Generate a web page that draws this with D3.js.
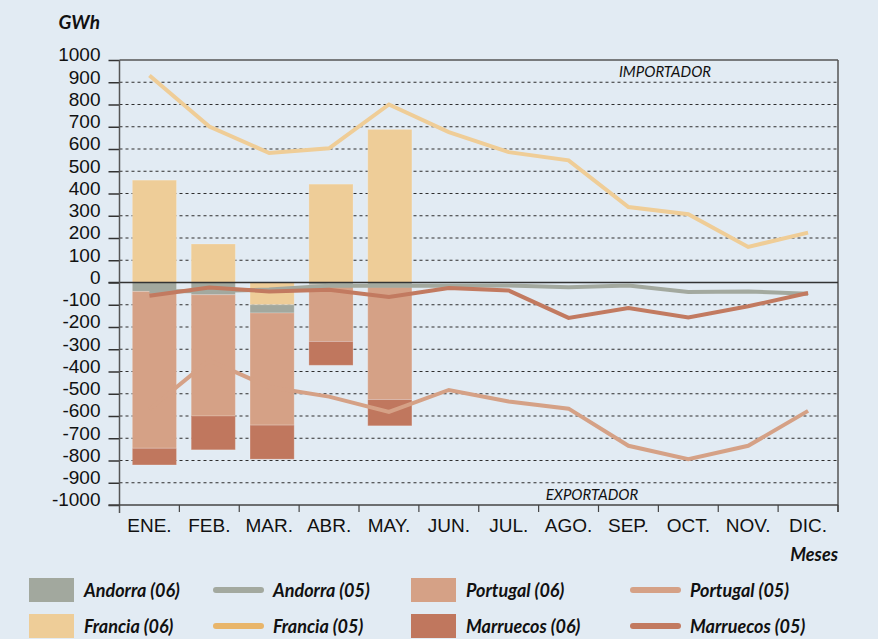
<!DOCTYPE html>
<html>
<head>
<meta charset="utf-8">
<script src="https://cdn.jsdelivr.net/npm/d3@7"></script>
<style>
  body { margin: 0; background: #e2ebf3; }
  svg { display: block; font-family: Lato, "Open Sans", sans-serif; }
</style>
</head>
<body>
<script>
// months
const months = ["ENE.", "FEB.", "MAR.", "ABR.", "MAY.", "JUN.", "JUL.", "AGO.", "SEP.", "OCT.", "NOV.", "DIC."];
const months06 = ["ENE.", "FEB.", "MAR.", "ABR.", "MAY."];

// 2006 bars (GWh, + import / - export)
const francia06 = [460, 173, -100, 442, 688];
const andorra06 = [-40, -55, -37, -10, -20];
const portugal06 = [-705, -545, -504, -255, -506];
const marruecos06 = [-75, -152, -153, -107, -118];

// 2005 lines
const francia05 = [930, 701, 582, 603, 800, 676, 586, 549, 339, 307, 160, 224];
const andorra05 = [-40, -38, -32, -15, -15, -15, -13, -21, -13, -43, -40, -51];
const portugal05 = [-570, -350, -470, -513, -582, -483, -535, -567, -734, -794, -734, -577];
const marruecos05 = [-60, -22, -40, -33, -65, -25, -36, -159, -115, -157, -107, -47];

const yTicks = d3.range(-1000, 1001, 100);

const col = {
    Francia: "#eecd98",
    Andorra: "#a2a89e",
    Portugal: "#d5a186",
    Marruecos: "#c0775e"
};

var width = 878, height = 639;
var margin = { top: 60, right: 40, bottom: 134, left: 119.5 };

var svg = d3.select("body").append("svg")
    .attr("width", width)
    .attr("height", height);

svg.append("rect").attr("width", width).attr("height", height).attr("fill", "#e2ebf3");

var x = d3.scaleBand().domain(months).range([margin.left, width - margin.right]);
// bars sit slightly off the month centres in the original
var xBar = d3.scaleBand().domain(months).range([125, 831.2]).paddingInner(0.25).paddingOuter(0.125);
var y = d3.scaleLinear().domain([-1000, 1000]).range([height - margin.bottom, margin.top]);

var x0 = margin.left, x1 = width - margin.right;

// grid
svg.append("g")
    .selectAll("line")
    .data(yTicks.filter(d => d !== 0 && Math.abs(d) !== 1000))
    .enter().append("line")
    .attr("x1", x0).attr("x2", x1)
    .attr("y1", d => y(d)).attr("y2", d => y(d))
    .attr("stroke", "#2e2e2e")
    .attr("stroke-width", 1.1)
    .attr("stroke-dasharray", "3,3");

// frame
svg.append("line").attr("x1", x0).attr("x2", x1).attr("y1", y(1000)).attr("y2", y(1000))
    .attr("stroke", "#555").attr("stroke-width", 1.5);
svg.append("line").attr("x1", x1).attr("x2", x1).attr("y1", y(1000)).attr("y2", y(-1000) + 7)
    .attr("stroke", "#555").attr("stroke-width", 1.5);

// bars (stacked, diverging)
var rows = months06.map((m, i) => ({
    month: m,
    Francia: francia06[i],
    Andorra: andorra06[i],
    Portugal: portugal06[i],
    Marruecos: marruecos06[i]
}));
var keys = ["Francia", "Andorra", "Portugal", "Marruecos"];
var series = d3.stack().keys(keys).offset(d3.stackOffsetDiverging)(rows);

// lines 2005
var line = d3.line()
    .x((d, i) => x(months[i]) + x.bandwidth() / 2)
    .y(d => y(d));

var lineSeries = [
    { name: "Portugal", values: portugal05, color: col.Portugal },
    { name: "Andorra", values: andorra05, color: "#a3a99f" },
    { name: "Francia", values: francia05, color: "#efcd97" },
    { name: "Marruecos", values: marruecos05, color: "#c27a60" }
];

svg.append("g")
    .selectAll("g")
    .data(series)
    .enter().append("g")
    .attr("fill", d => col[d.key])
    .selectAll("rect")
    .data(d => d)
    .enter().append("rect")
    .attr("x", d => xBar(d.data.month))
    .attr("width", xBar.bandwidth())
    .attr("y", d => y(Math.max(d[0], d[1])))
    .attr("height", d => Math.abs(y(d[0]) - y(d[1])))
    .attr("stroke", "#ffffff")
    .attr("stroke-opacity", 0.2)
    .attr("stroke-width", 1);

// zero line
svg.append("line").attr("x1", x0 - 11).attr("x2", x1).attr("y1", y(0)).attr("y2", y(0))
    .attr("stroke", "#333").attr("stroke-width", 1.5);

svg.append("g")
    .selectAll("path")
    .data(lineSeries)
    .enter().append("path")
    .attr("d", d => line(d.values))
    .attr("fill", "none")
    .attr("stroke", d => d.color)
    .attr("stroke-width", 4)
    .attr("stroke-linejoin", "miter");

// y axis
var yAxis = d3.axisLeft(y)
    .tickValues(yTicks)
    .tickSize(11)
    .tickPadding(8)
    .tickFormat(d => String(d));

var gy = svg.append("g")
    .attr("transform", "translate(" + x0 + ",0)")
    .call(yAxis);
gy.select(".domain").remove();
gy.selectAll(".tick line").attr("stroke", "#333").attr("stroke-width", 1.5);
gy.selectAll(".tick text")
    .attr("dy", "0.05em")
    .attr("fill", "#111")
    .style("font-size", "19px");

svg.append("line").attr("x1", x0).attr("x2", x0).attr("y1", y(1000)).attr("y2", y(-1000) + 8)
    .attr("stroke", "#555").attr("stroke-width", 1.5);

// x axis
svg.append("line").attr("x1", x0 - 11).attr("x2", x1).attr("y1", y(-1000)).attr("y2", y(-1000))
    .attr("stroke", "#444").attr("stroke-width", 1.5);

svg.append("g")
    .selectAll("line")
    .data(months)
    .enter().append("line")
    .attr("x1", d => x(d) + x.bandwidth()).attr("x2", d => x(d) + x.bandwidth())
    .attr("y1", y(-1000)).attr("y2", y(-1000) + 7)
    .attr("stroke", "#444").attr("stroke-width", 1.2);

var xAxis = d3.axisBottom(x).tickSize(0).tickPadding(0);
var gx = svg.append("g")
    .attr("transform", "translate(0," + y(-1000) + ")")
    .call(xAxis);
gx.select(".domain").remove();
gx.selectAll(".tick text")
    .attr("y", 27)
    .attr("dy", null)
    .attr("fill", "#111")
    .style("font-size", "19px");

// titles
svg.append("text").attr("x", 100).attr("y", 29).attr("text-anchor", "end")
    .style("font-size", "19px").style("font-weight", "bold").style("font-style", "italic")
    .attr("fill", "#111").text("GWh");

svg.append("text").attr("x", x1).attr("y", 561).attr("text-anchor", "end")
    .style("font-size", "18px").style("font-weight", "bold").style("font-style", "italic")
    .attr("fill", "#111").text("Meses");

svg.append("text").attr("x", 665).attr("y", 77).attr("text-anchor", "middle")
    .style("font-size", "15px").style("font-style", "italic")
    .attr("fill", "#111").text("IMPORTADOR");

svg.append("text").attr("x", 592).attr("y", 500).attr("text-anchor", "middle")
    .style("font-size", "15px").style("font-style", "italic")
    .attr("fill", "#111").text("EXPORTADOR");

// legend
var legendItems = [
    { label: "Andorra (06)", type: "box", color: col.Andorra, x: 29, y: 590 },
    { label: "Andorra (05)", type: "line", color: "#a3a99f", x: 213, y: 590 },
    { label: "Portugal (06)", type: "box", color: col.Portugal, x: 411, y: 590 },
    { label: "Portugal (05)", type: "line", color: col.Portugal, x: 630, y: 590 },
    { label: "Francia (06)", type: "box", color: col.Francia, x: 29, y: 626 },
    { label: "Francia (05)", type: "line", color: "#e8b56a", x: 213, y: 626 },
    { label: "Marruecos (06)", type: "box", color: col.Marruecos, x: 411, y: 626 },
    { label: "Marruecos (05)", type: "line", color: "#c27a60", x: 630, y: 626 }
];

var lg = svg.append("g").selectAll("g")
    .data(legendItems)
    .enter().append("g")
    .attr("transform", d => "translate(" + d.x + "," + d.y + ")");

lg.filter(d => d.type === "box").append("rect")
    .attr("x", 0).attr("y", -12).attr("width", 45).attr("height", 24)
    .attr("fill", d => d.color);

lg.filter(d => d.type === "line").append("line")
    .attr("x1", 3).attr("x2", 48).attr("y1", 0).attr("y2", 0)
    .attr("stroke", d => d.color)
    .attr("stroke-width", 6)
    .attr("stroke-linecap", "round");

lg.append("text")
    .attr("x", d => d.type === "box" ? 55 : 60)
    .attr("y", 7)
    .style("font-size", "18px").style("font-weight", "bold").style("font-style", "italic")
    .attr("fill", "#111")
    .text(d => d.label);
</script>
</body>
</html>
